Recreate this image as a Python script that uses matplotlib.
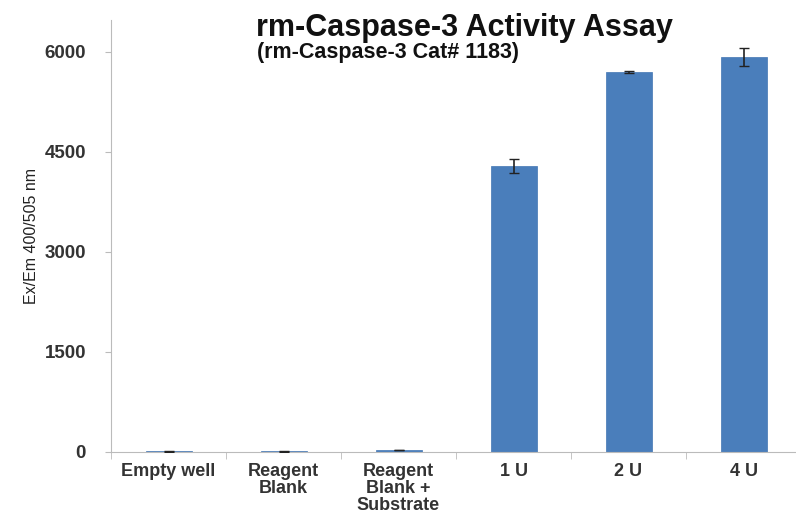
import matplotlib.pyplot as plt
import numpy as np

categories = ["Empty well", "Reagent\nBlank", "Reagent\nBlank +\nSubstrate", "1 U", "2 U", "4 U"]
values = [8, 8, 30, 4290, 5700, 5925]
errors = [5, 5, 5, 100, 15, 140]
yticks = [0, 1500, 3000, 4500, 6000]

plt.rcParams['font.family'] = ['Liberation Sans', 'DejaVu Sans']

fig = plt.figure(figsize=(7.96, 5.14), dpi=100)
ax = fig.add_axes([111 / 796, 1 - 452 / 514, 690 / 796, 432 / 514])

x = np.arange(len(categories))
ax.bar(x, values, width=0.4, color="#4a7ebb", edgecolor="#4275b3", linewidth=0.5, zorder=2)
ax.errorbar(x, values, yerr=errors, fmt="none", ecolor="#222222", elinewidth=1.2,
            capsize=3.5, capthick=1.0, zorder=3)

ax.set_xlim(-0.5, 5.5)
ax.set_ylim(0, 6480)
ax.set_yticks(yticks)
ax.set_yticklabels([str(v) for v in yticks], fontsize=13.5, fontweight="bold", color="#333333")
ax.tick_params(axis="y", length=4, color="#bbbbbb", pad=14)

ax.set_xticks(x)
ax.set_xticklabels(categories, fontsize=13, fontweight="bold", color="#333333", linespacing=1.0)
ax.tick_params(axis="x", length=0, pad=8)
ax.set_xticks(np.arange(-0.5, 5.6, 1.0), minor=True)
ax.tick_params(axis="x", which="minor", length=5, color="#bbbbbb")

for s in ["top", "right"]:
    ax.spines[s].set_visible(False)
ax.spines["left"].set_color("#bbbbbb")
ax.spines["bottom"].set_color("#bbbbbb")

ax.set_ylabel("Ex/Em 400/505 nm", fontsize=11.5, color="#222222", labelpad=4)

fig.text(0.584, 0.945, "rm-Caspase-3 Activity Assay", fontsize=22, fontweight="bold",
         ha="center", va="center", color="#111111")
fig.text(0.488, 0.897, "(rm-Caspase-3 Cat# 1183)", fontsize=15.5, fontweight="bold",
         ha="center", va="center", color="#111111")

fig.savefig("out.png", dpi=100)
